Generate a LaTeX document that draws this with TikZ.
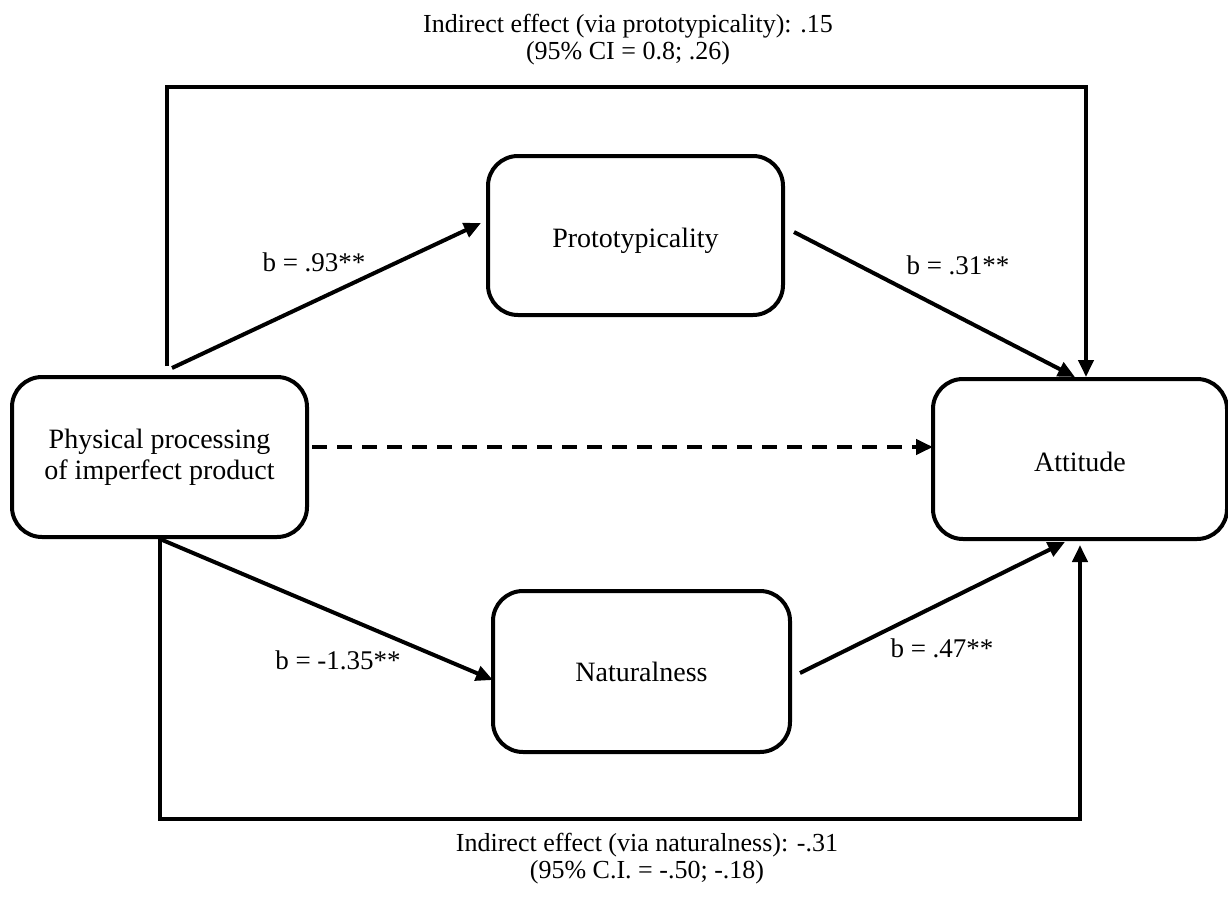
\documentclass[tikz,border=0pt]{standalone}
\usepackage{fontspec}
\setmainfont{Liberation Serif}
\usetikzlibrary{arrows.meta}
\begin{document}
\begin{tikzpicture}[x=0.5pt,y=-0.5pt,
  every node/.style={font=\fontsize{13.5}{15.5}\selectfont},
  box/.style={draw,line width=2pt,rounded corners=15pt,align=center,inner sep=0pt,font=\fontsize{14}{15.5}\selectfont},
  conn/.style={line width=2pt},
  arr/.style={conn,-{Triangle[length=8.5pt,width=7.5pt]}},
  lbl/.style={align=center,inner sep=0pt},
  boxtext/.style={lbl,font=\fontsize{14}{15.5}\selectfont},
  note/.style={lbl,font=\fontsize{13}{13.5}\selectfont}]
\useasboundingbox (0,0) rectangle (1228,906);
\node[box,minimum width=147.5pt,minimum height=80pt] (L) at (159.5,457) {Physical processing\\of imperfect product};
\node[box,minimum width=147.5pt,minimum height=79.5pt] (P) at (635.5,235.5) {};
\node[box,minimum width=148.5pt,minimum height=80.5pt] (N) at (641.5,671.5) {Naturalness};
\node[box,minimum width=147pt,minimum height=80pt] (A) at (1080,459) {};
\node[boxtext] (Pt) at ([yshift=-2.5pt]P.center) {Prototypicality};
\node[boxtext] (At) at ([yshift=-1.5pt]A.center) {Attitude};
% top loop
\coordinate (t0) at ([shift={(7.5,-9)}]L.north);
\coordinate (t1) at ([shift={(6,0)}]A.north);
\draw[arr,line join=miter] (t0) -- (t0 |- 0,87) -- (t1 |- 0,87) -- (t1);
% bottom loop
\coordinate (b0) at ([shift={(0.5,0)}]L.south);
\coordinate (b1) at ([shift={(0,4)}]A.south);
\draw[arr,line join=miter] (b0) -- (b0 |- 0,819) -- (b1 |- 0,819) -- (b1);
% diagonals
\draw[arr] ([shift={(12.5,-7)}]L.north) -- ([shift={(-5,-12.5)}]P.west);
\draw[arr] ([shift={(9,-3.5)}]P.east) -- ([shift={(-5,0)}]A.north);
\draw[arr] (b0) -- ([shift={(2,8.5)}]N.west);
\draw[arr] ([shift={(8,1.5)}]N.east) -- ([shift={(-15,1)}]A.south);
% dashed direct
\draw[arr,dash pattern=on 7.5pt off 5pt] ([shift={(3,-10)}]L.east) -- ([shift={(2,-12)}]A.west);
% labels
\node[lbl] (l1) at (314,262) {b = .93**};
\node[lbl] (l2) at (958,265) {b = .31**};
\node[lbl] (l3) at (338,660) {b = -1.35**};
\node[lbl] (l4) at (942,648) {b = .47**};
\node[note] (top) at (628,40) {Indirect effect (via prototypicality): .15\\(95\% CI = 0.8; .26)};
\node[note] (bot) at (647,859) {Indirect effect (via naturalness): -.31\\(95\% C.I. = -.50; -.18)};
\end{tikzpicture}
\end{document}
